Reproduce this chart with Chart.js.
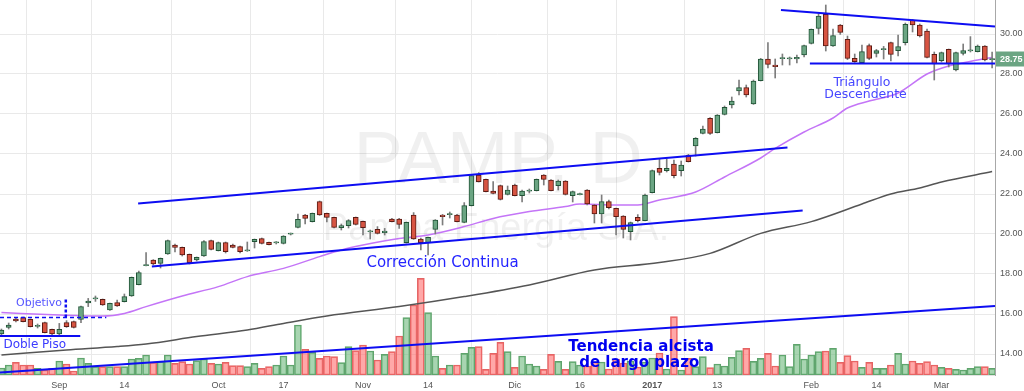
<!DOCTYPE html>
<html>
<head>
<meta charset="utf-8">
<script src="https://cdn.jsdelivr.net/npm/chart.js@4.4.1/dist/chart.umd.min.js"></script>
<style>
  html, body { margin: 0; padding: 0; background: #fff; }
  #wrap { width: 1024px; height: 391px; }
</style>
</head>
<body>
<div id="wrap"><canvas id="chart"></canvas></div>
<script>
// PAMP daily, one entry per trading session (index 0 = late Aug 2016)
var opens = [15.0,15.33,15.75,15.82,15.73,15.38,15.57,15.23,15.0,15.57,
  15.62,15.73,16.55,16.76,16.73,16.2,16.57,16.62,16.9,17.47,
  18.42,18.7,18.53,19.0,19.45,19.33,18.98,18.7,18.9,19.67,
  19.17,19.57,19.45,19.37,19.16,19.62,19.77,19.58,19.56,19.53,
  19.99,20.33,20.95,20.62,21.62,21.03,20.83,20.32,20.42,20.83,
  20.63,20.11,20.23,20.07,20.75,20.75,19.57,20.95,19.75,19.57,
  20.23,20.95,20.97,20.95,20.58,21.42,22.95,22.73,22.15,22.42,
  21.98,22.45,21.92,22.14,22.17,22.95,22.7,22.42,22.65,21.92,
  21.97,22.2,21.45,21.0,21.62,21.28,20.9,20.12,20.83,20.67,
  22.07,23.28,23.17,23.5,23.17,23.95,24.4,25.03,25.78,25.07,
  25.98,26.45,27.15,27.32,26.5,27.67,28.75,28.45,28.77,28.76,
  28.75,28.95,29.53,30.28,30.98,29.4,30.45,29.73,28.78,28.57,
  29.42,29.03,29.22,29.57,29.17,29.57,30.7,30.45,30.15,28.98,
  28.67,29.23,28.2,29.03,29.16,29.12,29.4,28.72];
var highs = [15.25,15.55,15.8,15.85,15.75,15.5,15.6,15.25,15.53,15.67,
  15.65,16.4,16.78,16.9,16.75,16.55,16.7,17.0,17.85,18.15,
  19.07,18.72,18.8,19.7,19.5,19.35,19.0,18.85,19.67,19.7,
  19.6,19.6,19.5,19.4,19.6,19.75,19.8,19.6,19.62,19.92,
  20.05,21.0,20.98,21.05,21.65,21.05,20.85,20.5,20.72,20.85,
  20.65,20.2,20.37,20.28,20.78,20.78,20.6,21.07,19.8,19.85,
  20.72,20.98,21.1,20.98,21.57,22.95,23.07,22.75,22.62,22.45,
  22.4,22.5,22.2,22.25,22.75,22.97,22.72,22.7,22.67,22.15,
  22.05,22.22,21.47,21.95,21.7,21.3,20.92,20.6,20.97,22.0,
  23.2,23.75,23.75,23.7,23.65,23.98,24.82,25.4,25.82,25.97,
  26.4,26.85,27.7,27.45,27.7,28.78,29.57,28.75,29.0,28.85,
  28.95,29.45,30.25,31.0,31.45,30.25,30.48,29.9,29.0,29.45,
  29.5,29.23,29.38,29.6,29.95,30.55,30.73,30.5,30.25,29.1,
  29.1,29.25,29.1,29.5,29.87,29.45,29.42,29.1];
var lows = [14.95,15.25,15.6,15.6,15.35,15.3,15.05,14.9,14.87,15.33,
  15.3,15.57,16.37,16.63,16.43,16.18,16.38,16.6,16.88,17.45,
  18.4,18.45,18.3,18.98,19.1,18.9,18.5,18.65,18.88,19.2,
  19.15,19.05,19.3,19.05,19.13,19.3,19.5,19.45,19.5,19.5,
  19.95,20.3,20.5,20.6,20.93,20.6,20.3,20.2,20.3,20.45,
  19.95,19.75,20.0,19.95,20.6,20.28,19.55,19.73,19.2,18.95,
  20.0,20.45,20.8,20.6,20.56,21.4,22.6,22.1,22.0,21.7,
  21.95,21.9,21.6,22.05,22.15,22.45,22.15,22.2,21.95,21.6,
  21.95,21.45,20.55,20.55,21.25,19.95,19.8,19.7,20.6,20.65,
  22.05,22.95,23.1,22.8,22.9,23.6,23.9,25.0,24.98,25.05,
  25.95,26.3,26.95,26.85,26.48,27.65,28.3,27.8,28.45,28.45,
  28.55,28.85,29.5,30.0,29.15,29.38,29.98,28.72,28.58,28.55,
  28.72,28.85,28.75,28.65,28.9,29.45,30.1,29.85,28.8,27.7,
  28.6,28.35,28.15,28.95,29.1,29.1,28.65,28.3];
var closes = [15.2,15.45,15.65,15.62,15.37,15.42,15.07,15.0,15.23,15.37,
  15.33,16.37,16.65,16.78,16.45,16.53,16.4,16.87,17.83,18.07,
  18.45,18.5,18.78,19.67,19.33,18.95,18.57,18.83,19.62,19.23,
  19.57,19.12,19.33,19.12,19.18,19.73,19.53,19.47,19.58,19.9,
  20.01,20.73,20.78,21.03,20.95,20.83,20.33,20.42,20.67,20.48,
  20.32,20.13,20.03,20.15,20.62,20.48,20.58,19.75,19.57,19.83,
  20.7,20.87,20.99,20.62,21.42,22.92,22.62,22.12,22.03,21.73,
  22.2,21.92,22.15,22.16,22.73,22.73,22.17,22.65,21.98,22.12,
  21.99,21.5,21.0,21.62,21.32,20.87,20.23,20.57,20.67,21.95,
  23.17,23.08,23.28,22.92,23.45,23.62,24.78,25.25,25.03,25.95,
  26.33,26.65,27.32,26.95,27.65,28.75,28.48,28.37,28.79,28.8,
  28.83,29.42,30.23,30.9,29.4,29.92,30.08,28.78,28.62,29.12,
  28.78,29.17,29.24,28.98,29.37,30.48,30.45,29.9,28.83,28.5,
  29.07,28.5,29.07,29.17,29.18,29.4,28.7,28.75];
// volume, thousands of shares
var volumes = [140,200,254,200,200,134,100,134,280,220,
  80,340,234,166,166,166,166,166,320,334,
  400,254,266,400,234,266,220,286,320,234,
  220,254,186,186,166,234,134,166,200,380,
  200,1000,514,454,334,380,366,246,566,486,
  600,480,300,414,466,780,1146,1400,1934,1246,
  380,134,200,200,434,554,566,114,434,654,
  466,154,380,220,180,114,414,274,114,266,
  200,180,260,260,120,320,240,280,160,260,
  340,440,120,1166,100,334,166,366,146,220,
  180,354,486,534,274,334,434,180,400,166,
  614,320,400,466,480,534,254,386,280,154,
  254,134,134,200,434,220,280,234,266,200,
  154,134,114,100,134,166,166,134];

// moving averages (session index -> price)
var maFastIdx = [0,8,14,17,20,25,30,34,39,44,47,50,55,59,64,68,73,78,80,85,88,91,96,100,105,107,111,115,117,120,124,128,131,135,137];
var maFastVal = [16.07,15.95,15.9,16.03,16.37,16.9,17.37,17.87,18.28,18.87,19.2,19.45,19.78,19.95,20.37,20.78,21.12,21.37,21.5,21.45,21.45,21.7,22.1,22.85,23.8,24.28,25.1,25.8,26.3,26.65,27.05,28.0,28.4,28.7,28.83];
var maSlowIdx = [0,9,16,20,27,34,39,45,55,64,73,82,91,98,105,112,119,123,127,130,137];
var maSlowVal = [13.95,14.2,14.37,14.5,14.87,15.2,15.53,15.9,16.37,16.87,17.45,18.2,18.57,19.03,20.03,20.62,21.5,22.0,22.3,22.6,23.12];

// x axis labels: session index and text
var tickIdx = [8,17,30,39,50,59,71,80,90,99,112,121,130];
var tickText = ['Sep','14','Oct','17','Nov','14','Dic','16','2017','13','Feb','14','Mar'];
var priceTicks = [14,16,18,20,22,24,26,28,30];

// drawn trend lines, [session index, price]
var trendLong = [[-0.2,13.07],[137.4,16.4]];
var channelLow = [[20.8,18.37],[110.8,21.17]];
var channelHigh = [[18.9,21.53],[108.7,24.32]];
var triTop = [[107.8,31.2],[137.4,30.37]];
var triBase = [[111.8,28.53],[137.4,28.53]];
var doblePiso = [[-0.2,14.9],[10.9,14.9]];
var objetivoH = [[-0.2,15.83],[14.5,15.83]];
var objetivoV = [[8.9,15.83],[8.9,16.82]];

var GREEN = '#6ba583', GREEN_DARK = '#225437';
var RED = '#d75442', RED_DARK = '#5b1a13';
var BLUE = '#0d0df2';

function isUp(i) { return closes[i] >= opens[i]; }
function pts(arr) { return arr.map(function (p) { return { x: p[0], y: p[1] }; }); }

function trend(arr, width, dash) {
  return {
    type: 'line', data: pts(arr), yAxisID: 'y', order: 1,
    borderColor: BLUE, borderWidth: width, borderDash: dash || [],
    pointRadius: 0, tension: 0, fill: false
  };
}

var notes = [
  { text: 'Objetivo', i: 5.2, v: 16.52, font: '11px "DejaVu Sans"', color: '#5656ff' },
  { text: 'Doble Piso', i: 4.6, v: 14.45, font: '12px "DejaVu Sans"', color: '#3a3aff' },
  { text: 'Corrección Continua', i: 61, v: 18.53, font: '15px "DejaVu Sans"', color: '#2424ff' },
  { text: 'Tendencia alcista', i: 88.45, v: 14.33, font: 'bold 15px "DejaVu Sans"', color: '#0000f0' },
  { text: 'de largo plazo', i: 88.2, v: 13.53, font: 'bold 15px "DejaVu Sans"', color: '#0000f0' },
  { text: 'Triángulo', i: 119, v: 27.55, font: '12.5px "DejaVu Sans"', color: '#4646ff' },
  { text: 'Descendente', i: 119.5, v: 26.95, font: '12.5px "DejaVu Sans"', color: '#4646ff' }
];

var watermark = {
  id: 'watermark',
  beforeDatasetsDraw: function (chart) {
    var ctx = chart.ctx, x = chart.scales.x, y = chart.scales.y;
    ctx.save();
    ctx.textAlign = 'center';
    ctx.textBaseline = 'alphabetic';
    ctx.fillStyle = 'rgba(0,0,0,0.06)';
    ctx.font = '74px "Liberation Sans"';
    ctx.fillText('PAMP, D', x.getPixelForValue(68.7), y.getPixelForValue(22.55));
    ctx.font = '38px "Liberation Sans"';
    ctx.fillText('Pampa Energía S.A.', x.getPixelForValue(68.4), y.getPixelForValue(19.7));
    ctx.restore();
  }
};

var annotations = {
  id: 'annotations',
  afterDatasetsDraw: function (chart) {
    var ctx = chart.ctx, x = chart.scales.x, y = chart.scales.y;
    ctx.save();
    ctx.textAlign = 'center';
    ctx.textBaseline = 'middle';
    notes.forEach(function (n) {
      ctx.font = n.font;
      ctx.fillStyle = n.color;
      ctx.fillText(n.text, x.getPixelForValue(n.i), y.getPixelForValue(n.v));
    });
    ctx.restore();
  },
  afterDraw: function (chart) {
    // last price tag on the price axis
    var ctx = chart.ctx, a = chart.chartArea;
    var last = closes[closes.length - 1];
    var py = chart.scales.y.getPixelForValue(last);
    ctx.save();
    ctx.fillStyle = GREEN;
    ctx.fillRect(a.right + 1, py - 7.5, chart.width - a.right - 1, 15);
    ctx.fillStyle = '#fff';
    ctx.font = 'bold 9px "Liberation Sans"';
    ctx.textAlign = 'left';
    ctx.textBaseline = 'middle';
    ctx.fillText(last.toFixed(2), a.right + 5, py + 0.5);
    ctx.restore();
  }
};

var ctx = document.getElementById('chart').getContext('2d');
var chart = new Chart(ctx, {
  type: 'bar',
  data: {
    datasets: [
      trend(trendLong, 2),
      trend(channelLow, 2),
      trend(channelHigh, 2),
      trend(triTop, 2),
      trend(triBase, 2),
      trend(doblePiso, 2),
      trend(objetivoH, 1.5, [4, 3]),
      trend(objetivoV, 2.5, [3, 2]),
      {
        type: 'bar', yAxisID: 'y', order: 4, grouped: false,
        data: opens.map(function (o, i) { return { x: i, y: [o, closes[i]] }; }),
        backgroundColor: function (c) { return isUp(c.dataIndex) ? GREEN : RED; },
        borderColor: function (c) { return isUp(c.dataIndex) ? GREEN_DARK : RED_DARK; },
        borderWidth: 1, borderSkipped: false, barThickness: 5, minBarLength: 1
      },
      {
        type: 'bar', yAxisID: 'y', order: 5, grouped: false,
        data: lows.map(function (l, i) { return { x: i, y: [l, highs[i]] }; }),
        backgroundColor: '#7d7d7d', borderWidth: 0, barThickness: 1
      },
      {
        type: 'line', yAxisID: 'y', order: 8,
        data: maFastIdx.map(function (i, k) { return { x: i, y: maFastVal[k] }; }),
        borderColor: '#c475f7', borderWidth: 1.5, pointRadius: 0,
        cubicInterpolationMode: 'monotone', fill: false
      },
      {
        type: 'line', yAxisID: 'y', order: 8,
        data: maSlowIdx.map(function (i, k) { return { x: i, y: maSlowVal[k] }; }),
        borderColor: '#555555', borderWidth: 1.5, pointRadius: 0,
        cubicInterpolationMode: 'monotone', fill: false
      },
      {
        type: 'bar', yAxisID: 'yv', order: 20, grouped: false,
        data: volumes.map(function (v, i) { return { x: i, y: v }; }),
        backgroundColor: function (c) { return isUp(c.dataIndex) ? 'rgba(110,185,125,0.6)' : 'rgba(255,110,110,0.6)'; },
        borderColor: function (c) { return isUp(c.dataIndex) ? '#5fa36c' : '#e36464'; },
        borderWidth: 1, borderSkipped: false, barThickness: 7
      }
    ]
  },
  options: {
    responsive: true,
    maintainAspectRatio: false,
    animation: false,
    devicePixelRatio: 1,
    layout: { padding: 0 },
    plugins: { legend: { display: false }, tooltip: { enabled: false } },
    scales: {
      x: {
        type: 'linear', min: -0.2, max: 137.4, offset: false,
        afterBuildTicks: function (s) { s.ticks = tickIdx.map(function (v) { return { value: v }; }); },
        afterFit: function (s) { s.height = 16; s.paddingLeft = 0; s.paddingRight = 0; },
        grid: { color: '#e9e9e9', drawTicks: false },
        border: { display: true, color: '#e3e3e3' },
        ticks: {
          autoSkip: false, maxRotation: 0, padding: 5, color: '#555',
          font: function (c) {
            var bold = c.tick && c.tick.value === 90;
            return { size: 9, family: '"Liberation Sans"', weight: bold ? 'bold' : 'normal' };
          },
          callback: function (v) { var k = tickIdx.indexOf(v); return k < 0 ? '' : tickText[k]; }
        }
      },
      y: {
        type: 'linear', position: 'right', min: 12.95, max: 31.7,
        afterBuildTicks: function (s) { s.ticks = priceTicks.map(function (v) { return { value: v }; }); },
        afterFit: function (s) { s.width = 29; s.paddingTop = 0; s.paddingBottom = 0; },
        grid: { color: '#e9e9e9', drawTicks: false },
        border: { display: true, color: '#a8a8a8' },
        ticks: {
          padding: 5, color: '#555',
          font: { size: 9, family: '"Liberation Sans"' },
          callback: function (v) { return Number(v).toFixed(2); }
        }
      },
      yv: {
        type: 'linear', display: false, min: 0, max: 7500
      }
    }
  },
  plugins: [watermark, annotations]
});
</script>
</body>
</html>
